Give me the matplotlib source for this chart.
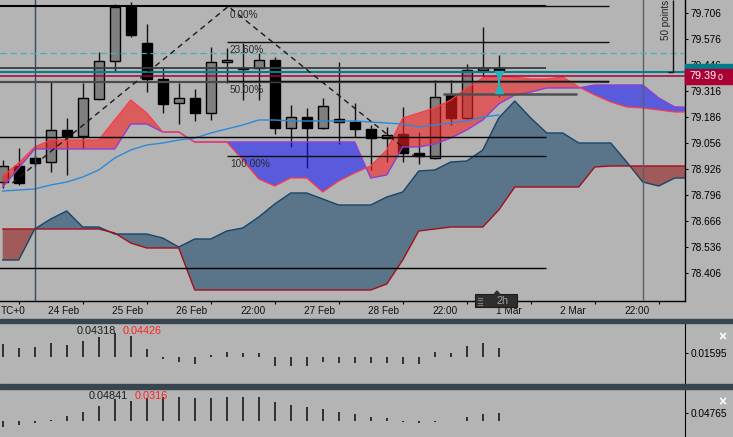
import numpy as np
import matplotlib
matplotlib.use('Agg')
import matplotlib.pyplot as plt
from matplotlib.patches import Rectangle, Polygon

plt.rcParams['font.family'] = ['Liberation Sans', 'DejaVu Sans']

W, H = 733, 437
BG = '#b4b4b4'

# candles (2h bars)
opens = [78.861, 78.941, 78.981, 78.961, 79.121, 79.091, 79.276, 79.466, 79.736, 79.556,
         79.376, 79.256, 79.281, 79.206, 79.461, 79.431, 79.431, 79.471, 79.131, 79.186,
         79.131, 79.176, 79.161, 79.126, 79.081, 79.101, 79.006, 78.981, 79.296, 79.181,
         79.421, 79.431]
highs = [78.971, 79.031, 78.996, 79.361, 79.181, 79.356, 79.511, 79.751, 79.761, 79.651,
         79.436, 79.356, 79.326, 79.536, 79.531, 79.556, 79.506, 79.486, 79.246, 79.231,
         79.281, 79.461, 79.256, 79.146, 79.136, 79.236, 79.111, 79.371, 79.371, 79.451,
         79.636, 79.496]
lows = [78.831, 78.846, 78.941, 78.911, 78.896, 79.031, 79.271, 79.411, 79.586, 79.311,
        79.206, 79.151, 79.166, 79.171, 79.356, 79.271, 79.271, 79.101, 79.036, 78.931,
        79.126, 79.051, 79.086, 78.921, 78.961, 78.961, 78.951, 78.976, 79.146, 79.176,
        79.386, 79.286]
closes = [78.941, 78.856, 78.956, 79.121, 79.091, 79.281, 79.466, 79.736, 79.596, 79.376,
          79.251, 79.281, 79.206, 79.461, 79.471, 79.426, 79.471, 79.131, 79.186, 79.131,
          79.241, 79.161, 79.126, 79.081, 79.096, 79.006, 78.991, 79.286, 79.181, 79.421,
          79.431, 79.416]

# upper cloud (purple line / red line), projected forward
span_p = [78.836, 78.931, 79.026, 79.026, 79.026, 79.026, 79.026, 79.026, 79.151, 79.151,
          79.111, 79.111, 79.061, 79.061, 79.061, 79.061, 79.061, 79.061, 79.061, 79.061,
          79.061, 79.061, 79.061, 78.881, 78.896, 79.036, 79.036, 79.051, 79.081, 79.121,
          79.171, 79.251, 79.296, 79.311, 79.331, 79.331, 79.331, 79.346, 79.346, 79.346,
          79.346, 79.281, 79.236, 79.236]
span_r = [78.891, 78.956, 79.036, 79.071, 79.071, 79.071, 79.071, 79.171, 79.271, 79.206,
          79.111, 79.111, 79.061, 79.061, 79.061, 78.971, 78.876, 78.841, 78.881, 78.881,
          78.811, 78.866, 78.906, 78.941, 79.021, 79.181, 79.206, 79.231, 79.271, 79.331,
          79.381, 79.391, 79.386, 79.376, 79.376, 79.386, 79.336, 79.296, 79.261, 79.236,
          79.231, 79.221, 79.211, 79.211]
# lower cloud (slate line / crimson line)
span_a = [78.471, 78.471, 78.626, 78.676, 78.716, 78.636, 78.636, 78.601, 78.601, 78.601,
          78.581, 78.536, 78.576, 78.576, 78.616, 78.631, 78.686, 78.751, 78.806, 78.806,
          78.776, 78.746, 78.746, 78.746, 78.786, 78.811, 78.916, 78.921, 78.961, 78.966,
          79.021, 79.181, 79.266, 79.181, 79.106, 79.106, 79.056, 79.056, 79.056, 78.961,
          78.861, 78.841, 78.881, 78.881]
span_b = [78.626, 78.626, 78.626, 78.626, 78.626, 78.626, 78.626, 78.606, 78.556, 78.531,
          78.531, 78.531, 78.321, 78.321, 78.321, 78.321, 78.321, 78.321, 78.321, 78.321,
          78.321, 78.321, 78.321, 78.321, 78.351, 78.471, 78.616, 78.626, 78.636, 78.636,
          78.636, 78.721, 78.836, 78.836, 78.836, 78.836, 78.836, 78.936, 78.941, 78.941,
          78.941, 78.941, 78.941, 78.941]
kijun = [78.816, 78.821, 78.826, 78.846, 78.861, 78.886, 78.921, 78.981, 79.021, 79.046,
         79.056, 79.071, 79.081, 79.106, 79.126, 79.146, 79.171, 79.171, 79.166, 79.166,
         79.166, 79.166, 79.166, 79.161, 79.156, 79.151, 79.136, 79.146, 79.156, 79.166,
         79.186, 79.196]

# lower panels (histograms)
osc1 = [0.052, 0.036, 0.040, 0.056, 0.048, 0.064, 0.080, 0.096, 0.084, 0.032,
        -0.008, -0.020, -0.028, 0.008, 0.020, 0.016, 0.016, -0.036, -0.036, -0.036,
        -0.020, -0.024, -0.024, -0.024, -0.024, -0.028, -0.028, 0.020, 0.016, 0.044,
        0.056, 0.036]
osc2 = [-0.044, -0.031, -0.017, 0.005, 0.031, 0.058, 0.099, 0.146, 0.133, 0.153,
        0.160, 0.160, 0.153, 0.153, 0.160, 0.160, 0.163, 0.126, 0.105, 0.092,
        0.078, 0.058, 0.044, 0.024, 0.017, -0.010, -0.017, -0.010, -0.004, 0.024,
        0.044, 0.051]

price_ticks = [78.406, 78.536, 78.666, 78.796, 78.926, 79.056, 79.186, 79.316, 79.446, 79.576, 79.706]
date_labels = ['24 Feb', '25 Feb', '26 Feb', '22:00', '27 Feb', '28 Feb', '22:00', '1 Mar', '2 Mar', '22:00']
date_pos = [2.83, 6.83, 10.83, 14.83, 18.83, 22.83, 26.83, 30.83, 34.83, 38.83]

fib_high, fib_low = 79.739, 78.991
fib_levels = [0.0, 0.236, 0.5, 1.0]
fib_names = ['0.00%', '23.60%', '50.00%', '100.00%']
teal_price = 79.411
bid_price = 79.390


def rect(x0, y0, x1, y1):
    return [x0 / W, 1 - y1 / H, (x1 - x0) / W, (y1 - y0) / H]


fig = plt.figure(figsize=(W / 100, H / 100), dpi=100, facecolor=BG)

# ---------------- main chart ----------------
ax = fig.add_axes(rect(0, 0, 685, 301))
ax.set_facecolor(BG)
ax.set_xlim(-0.169, 42.64)
ax.set_ylim(78.266, 79.771)
for s in ['top', 'left']:
    ax.spines[s].set_visible(False)
for s in ['right', 'bottom']:
    ax.spines[s].set_color('black')
    ax.spines[s].set_linewidth(1)

ax.yaxis.tick_right()
ax.set_yticks(price_ticks)
ax.set_yticklabels([f'{v:.3f}' for v in price_ticks])
ax.tick_params(axis='y', direction='out', length=2, pad=2, labelsize=7.3, colors='black')
ax.set_xticks(range(1, 43, 4))
ax.set_xticklabels([])
ax.tick_params(axis='x', direction='out', length=1.8, color='black')

xs = np.arange(len(span_a))
a = np.array(span_a)
b = np.array(span_b)
ax.fill_between(xs, a, b, where=a >= b, interpolate=True, color='#5a7589', lw=0, zorder=1)
ax.fill_between(xs, a, b, where=a < b, interpolate=True, color='#a05a5a', lw=0, zorder=1)
ax.plot(xs, a, color='#17456a', lw=1, zorder=1.5)
ax.plot(xs, b, color='#a30f1a', lw=1, zorder=1.5)

# candles
xc = np.arange(len(opens))
o = np.array(opens)
c = np.array(closes)
up = c >= o
ax.vlines(xc, lows, highs, color='#111111', lw=1, zorder=2)
body_lo = np.minimum(o, c)
body_h = np.maximum(np.abs(c - o), 0.004)
ax.bar(xc, body_h, bottom=body_lo, width=0.62,
       color=np.where(up, '#7f7f7f', '#000000'), edgecolor='black', lw=1, zorder=2.2)

# upper cloud over the candles
p = np.array(span_p)
r = np.array(span_r)
ax.fill_between(xs, p, r, where=r >= p, interpolate=True, color='#f62121', alpha=0.6, lw=0, zorder=3)
ax.fill_between(xs, p, r, where=r < p, interpolate=True, color='#1010ff', alpha=0.55, lw=0, zorder=3)
ax.plot(xs, p, color='#8c3fd0', lw=1, zorder=3.5)
ax.plot(xs, r, color='#ff3a4a', lw=0.9, zorder=3.5)
ax.plot(np.arange(len(kijun)), kijun, color='#2a8ad8', lw=1, zorder=3.5)

# vertical separators
ax.axvline(2, color='#3b4a5a', lw=1, zorder=4)
ax.axvline(40, color='#56616b', lw=1, zorder=4)

# horizontal lines
ax.hlines(fib_high, -1, 33.96, color='black', lw=1.5, zorder=4)
ax.hlines(79.431, -1, 33.96, color='#3c3c3c', lw=1.3, zorder=4)
ax.hlines(79.361, -1, 37.9, color='#4c4c4c', lw=1.6, zorder=4)
ax.hlines(79.301, 27.5, 35.9, color='#505050', lw=1.8, zorder=4)
ax.hlines(79.086, -1, 33.96, color='black', lw=1, zorder=4)
ax.hlines(78.431, -1, 33.96, color='black', lw=1, zorder=4)
ax.axhline(79.506, color='#3fb3b8', lw=0.9, ls=(0, (5, 3)), zorder=4)
ax.axhline(teal_price, color='#00808c', lw=1.5, zorder=4)
ax.axhline(bid_price, color='#a8003a', lw=1.1, zorder=4)

# fibonacci retracement
fib_ends = [37.9, 37.9, 37.9, 33.96]
for lvl, name, xe in zip(fib_levels, fib_names, fib_ends):
    val = fib_high - lvl * (fib_high - fib_low)
    ax.hlines(val, 14.02, xe, color='#111111', lw=1, zorder=4)
    ax.text(14.2, val - 0.042, name, fontsize=7.2, color='#2a2a2a', ha='left', va='center', zorder=6)

# zigzag
ax.plot([0.6, 14.1, 25.7], [78.856, fib_high, fib_low], color='#1a1a1a', lw=1,
        ls=(0, (4, 3)), zorder=5)

# current bar marker
ax.vlines(31, 79.321, 79.401, color='#1fb5c0', lw=1.5, zorder=6)
ax.plot([31], [79.396], marker='v', ms=6, color='#1fb5c0', mec='#1fb5c0', zorder=6)
ax.plot([31], [79.326], marker='^', ms=6, color='#1fb5c0', mec='#1fb5c0', zorder=6)

# 50 points ruler
ax.vlines(41.89, teal_price, 79.771, color='#111111', lw=1, zorder=6)
ax.hlines(teal_price, 41.58, 41.89, color='#111111', lw=1, zorder=6)
ax.text(41.47, 79.671, '50 points', rotation=90, ha='center', va='center',
        fontsize=7.1, color='#222222', zorder=6)

# price boxes on the right scale
trans = ax.get_yaxis_transform()
ax.add_patch(Rectangle((1.0, teal_price - 0.0375), 48 / 685, 0.075, transform=trans,
                       clip_on=False, color='#007d8c', zorder=6))
ax.add_patch(Rectangle((1.0, bid_price - 0.0375), 48 / 685, 0.075, transform=trans,
                       clip_on=False, color='#aa0034', zorder=7))
ax.text(689 / 685, bid_price, '79.39', transform=trans, ha='left', va='center',
        fontsize=7.8, color='white', clip_on=False, zorder=8)
ax.text(718 / 685, bid_price - 0.006, '0', transform=trans, ha='left', va='center',
        fontsize=6.3, color='white', clip_on=False, zorder=8)

# time labels
xt = ax.get_xaxis_transform()
for lbl, xp in zip(date_labels, date_pos):
    ax.text(xp, -10 / 301, lbl, transform=xt, ha='left', va='center', fontsize=7.2,
            color='#111111', clip_on=False)
fig.text(0.5 / W, 1 - 311 / H, 'TC+0', ha='left', va='center', fontsize=7.2, color='#111111')

# timeframe badge
fig.add_artist(Rectangle((475 / W, 1 - 307 / H), 42 / W, 13 / H, transform=fig.transFigure,
                         facecolor='#2e2e2e', edgecolor='#1c1c1c', lw=0.8, zorder=10))
fig.add_artist(Polygon([[494 / W, 1 - 294.5 / H], [500 / W, 1 - 294.5 / H], [497 / W, 1 - 291 / H]],
                       closed=True, transform=fig.transFigure, color='#2e2e2e', zorder=10))
for yy in [297.5, 300, 302.5, 305]:
    fig.add_artist(plt.Line2D([478 / W, 482 / W], [1 - yy / H, 1 - yy / H], transform=fig.transFigure,
                              color='#7a7a7a', lw=0.8, zorder=11))
fig.text(503 / W, 1 - 301 / H, '2h', ha='center', va='center', fontsize=7.8,
         color='#a0a0a0', zorder=11)

# ---------------- indicator panels ----------------
def panel(box, vals, ylim, tick, tick_lbl, txt_black, txt_red, pos_black, pos_red, y_txt, y_x):
    axp = fig.add_axes(rect(*box))
    axp.set_facecolor(BG)
    axp.set_xlim(-0.169, 42.64)
    axp.set_ylim(*ylim)
    for s in ['top', 'left', 'bottom']:
        axp.spines[s].set_visible(False)
    axp.spines['right'].set_color('black')
    axp.set_xticks([])
    axp.yaxis.tick_right()
    axp.set_yticks([tick])
    axp.set_yticklabels([tick_lbl])
    axp.tick_params(axis='y', direction='out', length=2, pad=2, labelsize=7.3, colors='black')
    axp.vlines(np.arange(len(vals)), 0, vals, color='#1a1a1a', lw=1.2)
    fig.text(pos_black / W, 1 - y_txt / H, txt_black, ha='left', va='center', fontsize=7.8, color='#1a1a1a')
    fig.text(pos_red / W, 1 - y_txt / H, txt_red, ha='left', va='center', fontsize=7.8, color='#ff2222')
    fig.text(722 / W, 1 - y_x / H, '\u00d7', ha='center', va='center', fontsize=10,
             fontweight='bold', color='white')
    return axp


panel((0, 323, 685, 384), osc1, (-0.108, 0.136), 0.01595, '0.01595',
      '0.04318', '0.04426', 77, 123, 331, 337)
panel((0, 389, 685, 437), osc2, (-0.1122, 0.2142), 0.04765, '0.04765',
      '0.04841', '0.0316', 89, 135, 396, 402)

# panel separators
for y0, y1 in [(318.7, 323.3), (384.3, 389)]:
    fig.add_artist(Rectangle((0, 1 - y1 / H), 1, (y1 - y0) / H, transform=fig.transFigure,
                             color='#37464e', zorder=12))

fig.savefig('out.png', dpi=100, facecolor=BG)
